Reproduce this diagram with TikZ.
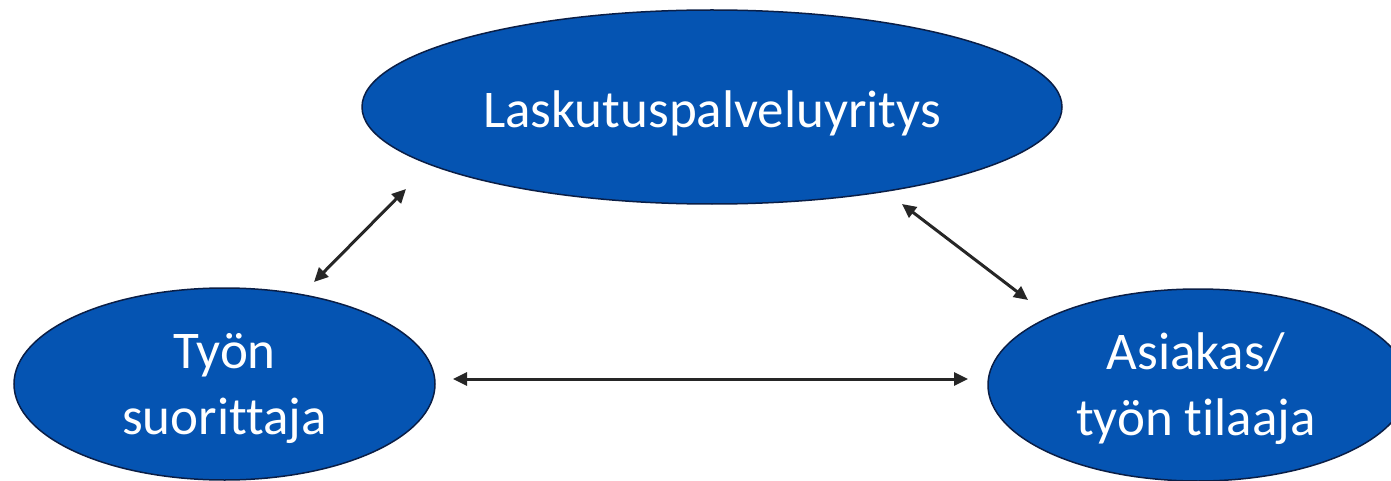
\documentclass[tikz,border=0pt]{standalone}
\usepackage{fontspec}
\setmainfont{Carlito}[Ligatures=NoCommon]
\usetikzlibrary{shapes.geometric,arrows.meta}
\definecolor{ellblue}{RGB}{5,84,178}
\definecolor{elledge}{RGB}{10,30,70}
\tikzset{
  ell/.style={ellipse, fill=ellblue, draw=elledge, line width=1.5pt, inner sep=0pt},
  txt/.style={text=white, align=center, inner sep=0pt, font=\fontsize{53}{66}\selectfont},
  link/.style={line width=3pt, black!85, {Triangle[length=14pt,width=13pt]}-{Triangle[length=14pt,width=13pt]}}
}
\begin{document}
\begin{tikzpicture}[x=1pt,y=-1pt]
\path[use as bounding box] (0,0) rectangle (1391,481);
\clip (0,0) rectangle (1391,481);
\node[ell, minimum width=700pt, minimum height=194pt] (top) at (712,107) {};
\node[ell, minimum width=421pt, minimum height=192pt] (left) at (224.5,384) {};
\node[ell, minimum width=420pt, minimum height=192pt] (right) at (1198,385) {};
\node[txt] (toptext) at ([yshift=-6pt]top.center) {Laskutuspalveluyritys};
\node[txt] (lefttext) at ([yshift=-5pt]left.center) {Työn\\suorittaja};
\node[txt] (righttext) at ([xshift=-2pt,yshift=-4pt]right.center) {Asiakas/\\työn tilaaja};
\coordinate (a1) at (314,282);
\coordinate (a2) at (406,189);
\coordinate (b1) at (902,204);
\coordinate (b2) at (1028,300);
\coordinate (c1) at (453,379);
\coordinate (c2) at (968,379);
\draw[link] (a1) -- (a2);
\draw[link] (b1) -- (b2);
\draw[link] (c1) -- (c2);
\end{tikzpicture}
\end{document}
